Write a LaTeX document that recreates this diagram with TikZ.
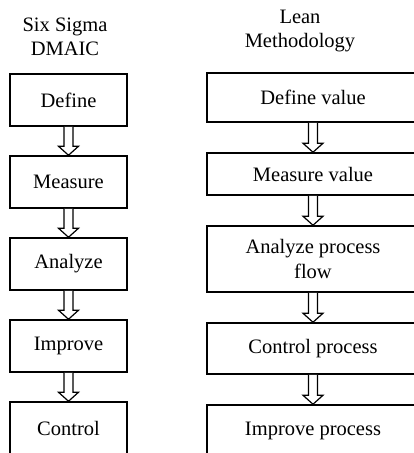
\documentclass[tikz,border=0pt]{standalone}
\usepackage{fontspec}
\setmainfont{Liberation Serif}
\usetikzlibrary{calc}
\tikzset{
  box/.style={draw=black, line width=1.5pt, fill=white, inner sep=0pt, align=center,
    font=\fontsize{20.5}{24.5}\selectfont},
  title/.style={align=center, inner sep=0pt, font=\fontsize{20.5}{24.5}\selectfont},
  fat/.style={draw=black, fill=white, line width=1.2pt, line join=miter,
    to path={let \p1=(\tikztostart), \p2=(\tikztotarget) in
      (\x1-4.5pt,\y1) -- (\x1-4.5pt,\y2+9pt) -- (\x1-10pt,\y2+9pt) -- (\x1,\y2)
      -- (\x1+10pt,\y2+9pt) -- (\x1+4.5pt,\y2+9pt) -- (\x1+4.5pt,\y1)}}
}
\begin{document}
\begin{tikzpicture}[x=1pt,y=-1pt]
\useasboundingbox (0,0) rectangle (414,453);
\clip (0,0) rectangle (414,453);
\fill[white] (0,0) rectangle (414,453);

\node[title] (t1) at (65,37) {Six Sigma\\DMAIC};
\node[title] (t2) at (300,31) {Lean\\Methodology};

\node[box, minimum width=117pt, minimum height=52pt] (d) at (68.5,100) {Define};
\node[box, minimum width=117pt, minimum height=52pt] (m) at (68.5,182) {Measure};
\node[box, minimum width=117pt, minimum height=52pt] (a) at (68.5,264) {Analyze};
\node[box, minimum width=117pt, minimum height=52pt] (i) at (68.5,346) {Improve};
\node[box, minimum width=117pt, minimum height=52pt] (c) at (68.5,428) {Control};

\node[box, minimum width=212pt, minimum height=49pt] (dv) at (313,97.5) {Define value};
\node[box, minimum width=212pt, minimum height=42pt] (mv) at (313,174) {Measure value};
\node[box, minimum width=212pt, minimum height=66pt] (ap) at (313,259) {Analyze process\\flow};
\node[box, minimum width=212pt, minimum height=51pt] (cp) at (313,348.5) {Control process};
\node[box, minimum width=212pt, minimum height=51pt] (ip) at (313,430.5) {Improve process};

\path[fat] (d.south) to (m.north);
\path[fat] (m.south) to (a.north);
\path[fat] (a.south) to (i.north);
\path[fat] (i.south) to (c.north);

\path[fat] (dv.south) to (mv.north);
\path[fat] (mv.south) to (ap.north);
\path[fat] (ap.south) to (cp.north);
\path[fat] (cp.south) to (ip.north);
\end{tikzpicture}
\end{document}
